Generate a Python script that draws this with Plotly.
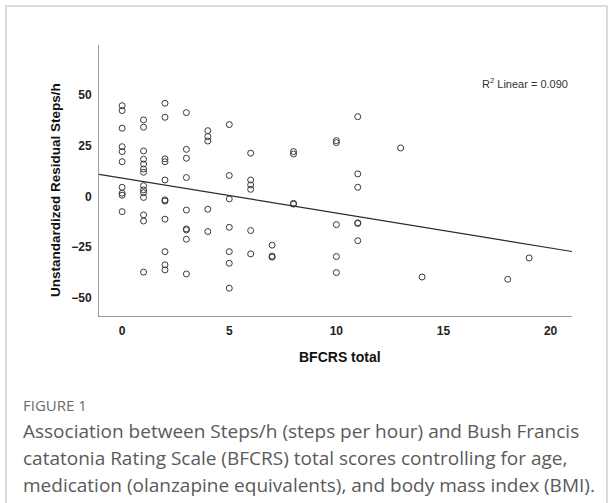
import plotly.graph_objects as go

# ---- data ----
bfcrs_total = (
    [0] * 10 + [1] * 14 + [2] * 11 + [3] * 9 + [4] * 5 + [5] * 7 + [6] * 6 +
    [7] * 3 + [8] * 4 + [10] * 5 + [11] * 6 + [13, 14, 18, 19]
)
residual_steps = [
    44.7, 42.3, 33.6, 24.5, 22.1, 17.1, 4.5, 1.6, 0.6, -7.5,                     # 0
    37.7, 34.1, 22.4, 18.3, 16.0, 13.5, 11.9, 5.3, 3.2, 1.8, -0.5, -9.1, -12.1, -37.3,  # 1
    45.9, 39.0, 18.5, 17.1, 8.1, -1.7, -2.3, -11.2, -27.2, -33.7, -36.2,         # 2
    41.3, 23.2, 18.8, 9.3, -6.7, -16.0, -16.5, -21.1, -38.2,                     # 3
    32.4, 29.5, 27.3, -6.3, -17.3,                                               # 4
    35.4, 10.3, -1.2, -15.2, -27.2, -32.9, -45.2,                                # 5
    21.3, 8.1, 5.7, 3.5, -16.8, -28.3,                                           # 6
    -24.0, -29.4, -29.9,                                                         # 7
    22.1, 20.9, -3.4, -3.8,                                                      # 8
    27.5, 26.5, -13.9, -29.6, -37.5,                                             # 10
    39.3, 11.1, 4.5, -13.0, -13.3, -21.8,                                        # 11
    23.9, -39.7, -40.8, -30.3,                                                   # 13,14,18,19
]
fit_intercept = 9.0
fit_slope = -1.72
r2_label = "R<sup>2</sup> Linear = 0.090"

x_range = [-1.08, 21.0]
y_range = [-58.9, 74.6]
x_ticks = [0, 5, 10, 15, 20]
y_ticks = [-50, -25, 0, 25, 50]

fit_x = x_range
fit_y = [fit_intercept + fit_slope * v for v in fit_x]

W, H = 613, 503


def py(pix):
    return (H - pix) / H


def px(pix):
    return pix / W


fig = go.Figure()
fig.add_trace(go.Scatter(
    x=bfcrs_total, y=residual_steps, mode="markers",
    marker=dict(symbol="circle-open", size=6, color="#3a3a3a", line=dict(width=1, color="#3a3a3a")),
    showlegend=False, hoverinfo="skip"))
fig.add_trace(go.Scatter(
    x=fit_x, y=fit_y, mode="lines",
    line=dict(color="#2b2b2b", width=1.2), showlegend=False, hoverinfo="skip"))

axis_font = dict(family="Liberation Sans, Arial, sans-serif", size=12, color="#222", weight="bold")

fig.update_layout(
    width=W, height=H,
    margin=dict(l=0, r=0, t=0, b=0),
    paper_bgcolor="white", plot_bgcolor="white",
    xaxis=dict(domain=[px(99), px(572)], range=x_range, tickvals=x_ticks,
               showline=True, linecolor="#9a9a9a", linewidth=1, showgrid=False,
               zeroline=False, ticks="", tickfont=axis_font, ticklabelstandoff=4),
    yaxis=dict(domain=[py(316), py(45)], range=y_range, tickvals=y_ticks,
               showline=True, linecolor="#9a9a9a", linewidth=1, showgrid=False,
               zeroline=False, ticks="", tickfont=axis_font, ticklabelstandoff=4),
    shapes=[dict(type="rect", xref="paper", yref="paper",
                 x0=px(6), x1=px(607), y0=-0.05, y1=py(6),
                 line=dict(color="#cfcfcf", width=1.5), fillcolor="rgba(0,0,0,0)", layer="below")],
)

ann = []
ann.append(dict(text=r2_label, x=px(480), y=py(83), xanchor="left", yanchor="middle",
                font=dict(family="Liberation Sans, Arial, sans-serif", size=11, color="#333")))
ann.append(dict(text="Unstandardized Residual Steps/h", x=px(55), y=py(190), textangle=-90,
                xanchor="center", yanchor="middle",
                font=dict(family="Liberation Sans, Arial, sans-serif", size=13.5, color="#111", weight="bold")))
ann.append(dict(text="BFCRS total", x=px(340), y=py(357), xanchor="center", yanchor="middle",
                font=dict(family="Liberation Sans, Arial, sans-serif", size=14, color="#111", weight="bold")))
ann.append(dict(text="FIGURE 1", x=px(21), y=py(405), xanchor="left", yanchor="middle",
                font=dict(family="Open Sans, sans-serif", size=15, color="#6b6b6b")))
caption_lines = [
    "Association between Steps/h (steps per hour) and Bush Francis",
    "catatonia Rating Scale (BFCRS) total scores controlling for age,",
    "medication (olanzapine equivalents), and body mass index (BMI).",
]
for i, line in enumerate(caption_lines):
    ann.append(dict(text=line, x=px(21), y=py(431 + 27 * i), xanchor="left", yanchor="middle",
                    font=dict(family="Open Sans, sans-serif", size=19, color="#5a5a5a")))
for a in ann:
    a.update(xref="paper", yref="paper", showarrow=False)
fig.update_layout(annotations=ann)

fig.write_html("out.html", config={"displayModeBar": False},
               post_script="document.body.style.margin='0';document.body.style.overflow='hidden';")
